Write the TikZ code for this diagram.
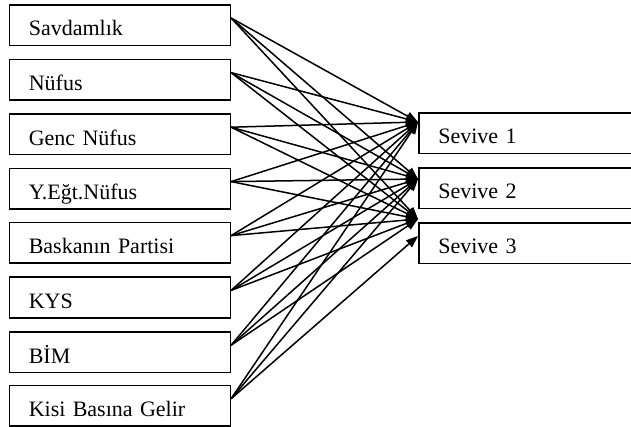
\documentclass[tikz,border=0pt]{standalone}
\usepackage{fontspec}
\setmainfont{Liberation Serif}
\usetikzlibrary{arrows.meta,calc}
\begin{document}
\begin{tikzpicture}[x=1pt,y=-1pt,
  box/.style={draw,line width=1.6pt,rectangle,anchor=north west,inner sep=0pt,inner xsep=19.5pt,
    text width=182pt,align=left,text height=31pt,text depth=9.5pt,font=\fontsize{22}{24}\selectfont},
  link/.style={line width=1.5pt,-{Triangle[length=12pt,width=9pt]}}]
\clip (0,0) rectangle (631,426);
\node[box] (L1) at (8.5,4) {Savdamlık};
\node[box] (L2) at (8.5,58.6) {Nüfus};
\node[box] (L3) at (8.5,113.2) {Genc Nüfus};
\node[box] (L4) at (8.5,167.6) {Y.Eğt.Nüfus};
\node[box] (L5) at (8.5,221.6) {Baskanın Partisi};
\node[box] (L6) at (8.5,276.4) {KYS};
\node[box] (L7) at (8.5,331.2) {BİM};
\node[box] (L8) at (8.5,384.7) {Kisi Basına Gelir};
\node[box,text width=185pt] (R1) at (418,112) {Sevive 1};
\node[box,text width=185pt] (R2) at (418,167) {Sevive 2};
\node[box,text width=185pt] (R3) at (418,222) {Sevive 3};
\foreach \i in {1,...,8} {\coordinate (s\i) at ($(L\i.north east)+(0,14)$);}
\coordinate (t1) at ($(R1.north west)+(0,10)$);
\coordinate (t2) at ($(R2.north west)+(0,12)$);
\coordinate (t3) at ($(R3.north west)+(0,-3)$);
\coordinate (t4) at ($(R3.north west)+(0,14)$);
\foreach \i in {1,...,8} {
  \draw[link] (s\i) -- (t1);
  \draw[link] (s\i) -- (t2);
}
\foreach \i in {1,...,7} {\draw[link] (s\i) -- (t3);}
\draw[link] (s8) -- (t4);
\end{tikzpicture}
\end{document}
